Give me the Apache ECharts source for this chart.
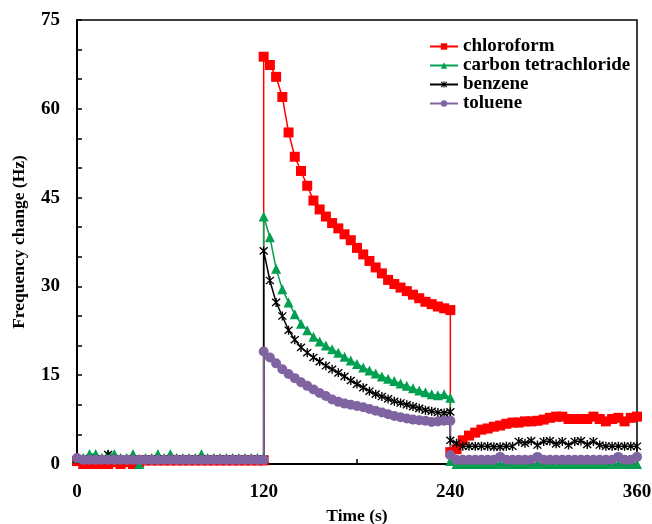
<!DOCTYPE html>
<html><head><meta charset="utf-8">
<script src="https://cdn.jsdelivr.net/npm/echarts@6/dist/echarts.min.js"></script>
<style>html,body{margin:0;padding:0;background:#fff}#c{width:652px;height:524px}</style>
</head><body><div id="c"></div>
<script>
var seriesNames = ['chloroform','carbon tetrachloride','benzene','toluene'];
var T = [0,4,8,12,16,20,24,28,32,36,40,44,48,52,56,60,64,68,72,76,80,84,88,92,96,100,104,108,112,116,120,
120,124,128,132,136,140,144,148,152,156,160,164,168,172,176,180,184,188,192,196,200,204,208,212,216,220,224,228,232,236,240,
240,244,248,252,256,260,264,268,272,276,280,284,288,292,296,300,304,308,312,316,320,324,328,332,336,340,344,348,352,356,360];
var chloroform = [0.5,0,0,0,0,0,0.3,0,0.3,0,0.3,0.6,0.6,0.6,0.6,0.6,0.6,0.6,0.6,0.6,0.6,0.6,0.6,0.6,0.6,0.6,0.6,0.6,0.6,0.6,0.6,
68.8,67.4,65.4,62.0,56.0,51.9,49.5,47.0,44.5,43.0,41.8,40.7,39.8,38.8,37.8,36.5,35.4,34.3,33.2,32.2,31.1,30.4,29.8,29.2,28.6,28.0,27.4,27.0,26.6,26.3,26.0,
2.0,2.5,4.0,4.8,5.3,5.8,6.0,6.3,6.5,6.8,7.0,7.0,7.2,7.2,7.3,7.5,7.8,8.0,8.0,7.6,7.6,7.6,7.6,8.0,7.6,7.2,7.6,7.8,7.2,7.8,8.0];
var carbonTet = [1,1,1.7,1.7,1,1.7,1.7,1,1,1.7,0,1,1,1.7,1,1.7,1,1,1,1,1.7,1,1,1,1,1,1,1,1,1,1,
41.8,38.3,33.0,29.5,27.3,25.3,23.7,22.6,21.5,20.7,20.0,19.4,18.8,18.1,17.5,16.9,16.3,15.8,15.3,14.8,14.4,14.0,13.6,13.2,12.8,12.4,12.1,11.8,11.6,11.8,11.2,
0.5,0,0,0,0,0,0,0,0,0,0,0,0,0,0,0,0,0,0,0,0,0,0,0,0,0,0,0,0,0,0];
var benzene = [0.8,0.8,0.8,0.8,0.8,1.6,0.8,0.8,0.8,0.8,0.8,0.8,0.8,0.8,0.8,0.8,0.8,0.8,0.8,0.8,0.8,0.8,0.8,0.8,0.8,0.8,0.8,0.8,0.8,0.8,0.8,
36.0,31.0,27.3,25.0,22.6,21.0,19.7,18.8,18.0,17.3,16.6,16.0,15.4,14.8,14.1,13.5,12.9,12.3,11.8,11.4,11.0,10.6,10.3,10.0,9.7,9.4,9.1,8.9,8.7,8.6,8.8,
4.0,3.5,3.0,3.0,3.0,3.0,3.0,2.9,2.9,3.0,3.0,3.8,3.5,3.9,3.2,3.8,3.9,3.4,3.8,3.2,3.8,3.9,3.3,3.8,3.2,3.0,3.0,3.0,3.0,3.0,3.0];
var toluene = [1.0,0.7,0.7,0.7,0.7,0.7,0.7,0.7,0.7,0.7,0.7,0.7,0.7,0.7,0.7,0.7,0.7,0.7,0.7,0.7,0.7,0.7,0.7,0.7,0.7,0.7,0.7,0.7,0.7,0.7,0.7,
19.0,18.0,17.0,16.0,15.2,14.5,13.8,13.2,12.6,12.0,11.5,10.9,10.5,10.2,10.0,9.8,9.6,9.3,9.0,8.7,8.4,8.1,7.9,7.7,7.5,7.4,7.3,7.1,7.2,7.3,7.3,
1.5,0.7,0.7,0.7,0.7,0.7,0.7,0.7,1.2,0.7,0.7,0.7,0.7,0.7,1.2,0.7,0.7,0.7,0.7,0.7,0.7,0.7,0.7,0.7,0.7,0.7,0.7,1.2,0.7,0.7,1.2];
var xTickLabels = [0,120,240,360];
var yTickLabels = [0,15,30,45,60,75];

var FONT = '"Liberation Serif", "Times New Roman", serif';
var star = 'path://M4.3,0H5.7V10H4.3Z M0.5,1.5L1.5,0.5L9.5,8.5L8.5,9.5Z M8.5,0.5L9.5,1.5L1.5,9.5L0.5,8.5Z';
function pairs(v){ return T.map(function(t,i){ return [t, v[i]]; }); }
var styles = [
  {color:'#FF0000', symbol:'rect', size:10},
  {color:'#00A050', symbol:'triangle', size:10},
  {color:'#000000', symbol:star, size:9},
  {color:'#8064A2', symbol:'circle', size:10}
];
var vals = [chloroform, carbonTet, benzene, toluene];
var series = seriesNames.map(function(n,i){
  return {
    name:n, type:'line', data:pairs(vals[i]), clip:false,
    symbol:styles[i].symbol, symbolSize:styles[i].size, showAllSymbol:true,
    lineStyle:{color:styles[i].color, width:1.5},
    itemStyle:{color:styles[i].color, borderWidth:0},
    emphasis:{disabled:true}, animation:false
  };
});
var chart = echarts.init(document.getElementById('c'), null, {renderer:'canvas'});
chart.setOption({
  animation:false,
  backgroundColor:'#fff',
  grid:{left:77, right:15, top:20, bottom:60, show:true, borderColor:'#000', borderWidth:1.5,
        containLabel:false, outerBoundsMode:'none'},
  legend:{
    orient:'vertical', left:424, top:32, itemWidth:28, itemHeight:8, itemGap:0,
    textStyle:{fontFamily:FONT, fontWeight:'bold', fontSize:19, color:'#000'},
    data:seriesNames.map(function(n,i){ return {name:n, itemStyle:{color:styles[i].color}}; })
  },
  xAxis:{
    type:'value', min:0, max:360, interval:60,
    name:'Time (s)', nameLocation:'middle', nameGap:43,
    nameTextStyle:{fontFamily:FONT, fontWeight:'bold', fontSize:17.5, color:'#000'},
    axisLine:{lineStyle:{color:'#000', width:2}},
    axisTick:{inside:true, length:5, lineStyle:{color:'#000', width:1.5}},
    axisLabel:{margin:19, fontFamily:FONT, fontWeight:'bold', fontSize:19, color:'#000',
      formatter:function(v){ return xTickLabels.indexOf(v)>=0 ? String(v) : ''; }},
    splitLine:{show:false}
  },
  yAxis:{
    type:'value', min:0, max:75, interval:5,
    name:'Frequency change (Hz)', nameLocation:'middle', nameGap:49,
    nameTextStyle:{fontFamily:FONT, fontWeight:'bold', fontSize:17.5, color:'#000'},
    axisLine:{lineStyle:{color:'#000', width:2}},
    axisTick:{inside:true, length:5, lineStyle:{color:'#000', width:1.5}},
    axisLabel:{margin:17, fontFamily:FONT, fontWeight:'bold', fontSize:19, color:'#000',
      formatter:function(v){ return yTickLabels.indexOf(v)>=0 ? String(v) : ''; }},
    splitLine:{show:false}
  },
  series:series
});
</script></body></html>
